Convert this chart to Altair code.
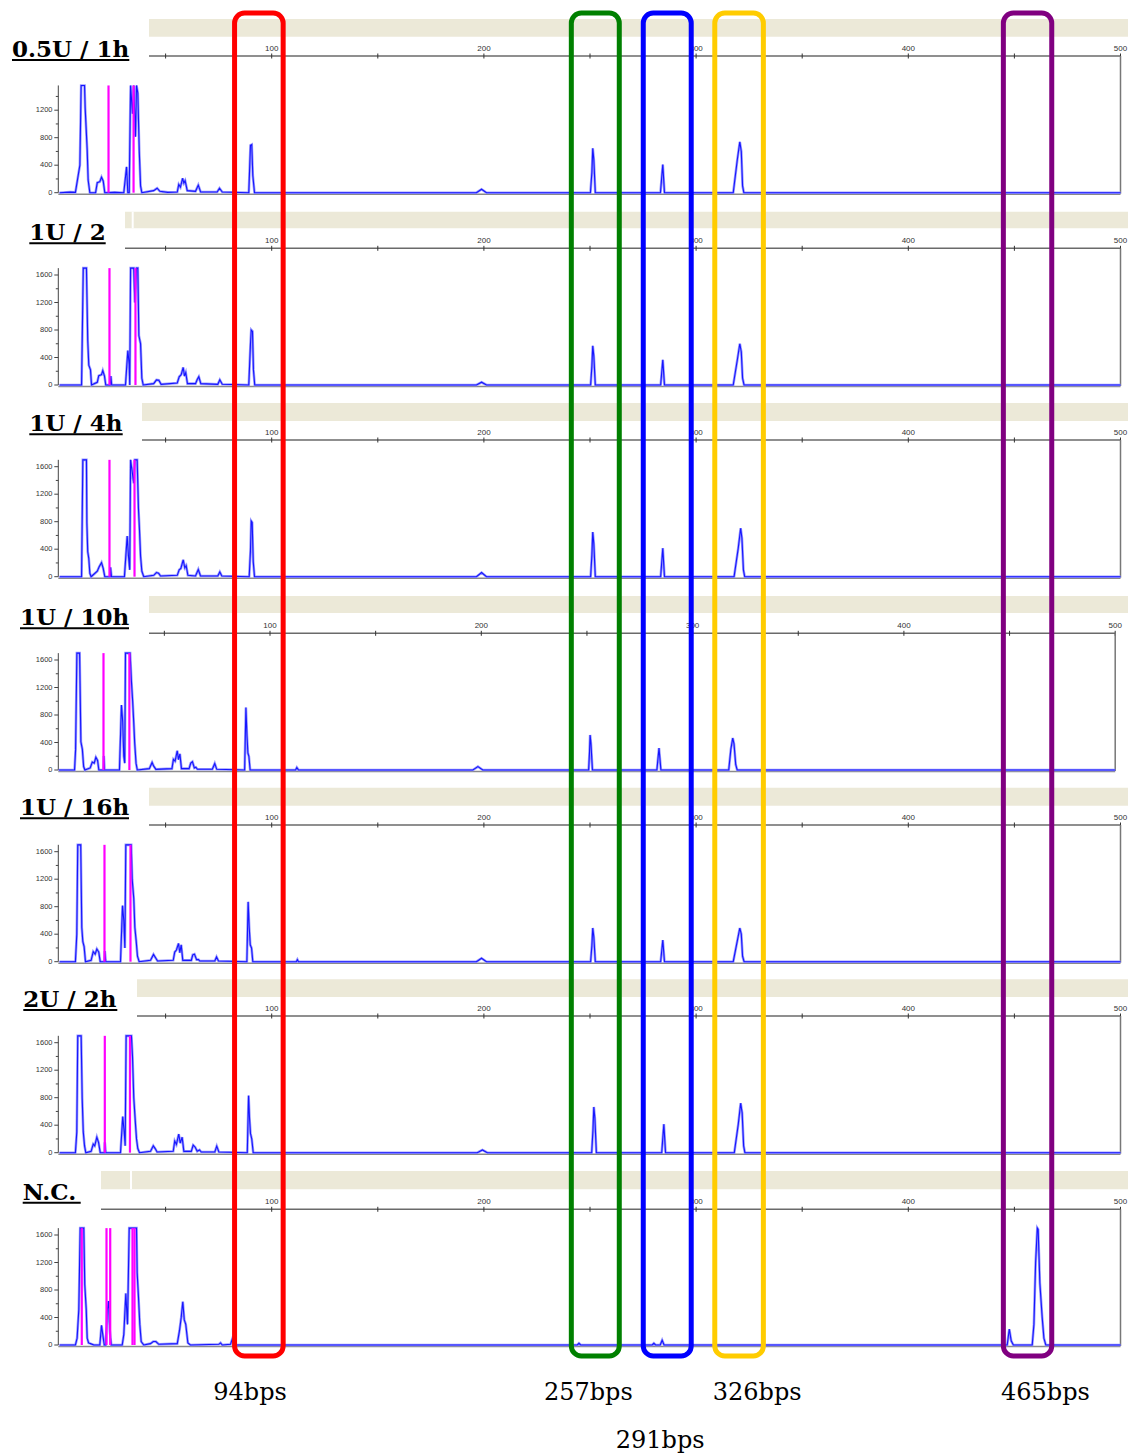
import altair as alt
import pandas as pd

# ---------------- data ----------------
PANEL_TITLES = ["0.5U / 1h", "1U / 2", "1U / 4h", "1U / 10h", "1U / 16h", "2U / 2h", "N.C."]

# (size in bp, fluorescence intensity)
TRACE_05U_1H = [
    (0, 0), (5, 8), (7.5, 5), (9.6, 400), (10.2, 1560), (11.8, 1560), (12.1, 1230), (13.05, 620), (13.5, 185), (14.3, 0),
    (17.0, 0), (17.8, 145), (19.0, 160), (19.8, 225), (20.6, 170), (21.35, 0), (26, 5),
    (30.3, 0), (31.6, 375), (32.2, 0), (32.85, 0), (33.5, 1560), (34.4, 1150), (35.0, 1560), (35.8, 815), (36.3, 1560),
    (36.9, 1450), (37.6, 600), (38.2, 100), (38.8, 0),
    (44.4, 30), (46.0, 65), (47.3, 20), (51, 5),
    (55.5, 10), (56.2, 120), (57.0, 80), (58.0, 210), (58.6, 140), (59.2, 175), (60.2, 30),
    (64.1, 20), (65.4, 110), (66.5, 10),
    (74.3, 10), (75.4, 65), (76.7, 10),
    (89.2, 0), (90.0, 690), (90.6, 700), (91.1, 250), (91.9, 0),
    (196.5, 0), (198.9, 50), (201.2, 0),
    (250.2, 0), (250.9, 300), (251.3, 645), (251.8, 480), (252.5, 0),
    (283.2, 0), (284.3, 410), (285.1, 0),
    (317.5, 0), (319.4, 475), (320.6, 740), (321.3, 600), (321.9, 100), (322.5, 0),
    (500, 0),
]
TRACE_1U_2 = [
    (0, 0), (10.4, 0), (11.2, 1700), (12.7, 1700), (13.3, 655), (13.8, 290), (14.6, 220), (15.1, 0),
    (17.8, 40), (18.5, 135), (19.8, 150), (20.4, 210), (21.2, 130), (21.8, 0),
    (23.9, 0), (24.2, 130), (24.6, 0),
    (31.1, 0), (32.2, 500), (32.85, 300), (33.1, 0), (33.5, 1700), (35.0, 1700), (35.5, 1200), (36.3, 1700), (36.9, 1700),
    (37.4, 720), (38.2, 600), (38.8, 100), (39.45, 0),
    (44.4, 20), (45.7, 75), (46.8, 70), (47.9, 10),
    (55.5, 30), (56.4, 120), (57.35, 150), (58.3, 255), (58.9, 130), (59.5, 180), (60.3, 20),
    (64.1, 20), (64.9, 80), (65.65, 120), (66.6, 20),
    (74.6, 10), (75.55, 75), (76.7, 10),
    (89.2, 0), (90.0, 600), (90.35, 800), (90.95, 780), (91.4, 220), (92.0, 0),
    (196.5, 0), (198.9, 40), (201.2, 0),
    (250.3, 0), (250.9, 280), (251.3, 570), (251.8, 420), (252.5, 0),
    (283.3, 0), (284.3, 365), (285.1, 0),
    (317.5, 0), (319.4, 360), (320.6, 600), (321.3, 480), (321.9, 100), (322.6, 0),
    (500, 0),
]
TRACE_1U_4H = [
    (0, 0), (10.4, 0), (11.0, 1700), (12.7, 1700), (12.9, 780), (13.3, 365), (13.8, 265), (14.3, 50), (14.9, 0),
    (17.8, 80), (18.7, 145), (19.8, 205), (20.6, 120), (21.35, 0),
    (23.9, 0), (24.05, 135), (24.5, 0),
    (30.6, 0), (31.9, 590), (32.5, 300), (33.1, 100), (33.5, 1700), (35.0, 1360), (35.5, 1700), (36.6, 1700), (37.2, 1000),
    (37.7, 680), (38.2, 300), (38.8, 80), (39.7, 0),
    (44.4, 20), (45.7, 60), (46.7, 50), (47.6, 10),
    (55.5, 20), (56.4, 100), (57.2, 120), (58.3, 245), (59.05, 130), (59.7, 160), (60.5, 20),
    (64.1, 10), (65.4, 105), (66.45, 10),
    (74.6, 10), (75.55, 70), (76.5, 10),
    (89.4, 0), (90.0, 380), (90.35, 810), (90.8, 790), (91.3, 220), (91.9, 0),
    (196.5, 0), (198.9, 60), (201.2, 0),
    (250.3, 0), (250.9, 320), (251.3, 650), (251.8, 480), (252.5, 0),
    (283.3, 0), (284.3, 415), (285.1, 0),
    (317.9, 0), (319.8, 400), (321.0, 705), (321.6, 560), (322.3, 100), (322.9, 0),
    (500, 0),
]
TRACE_1U_10H = [
    (0, 0), (7.5, 0), (8.0, 300), (8.6, 1700), (9.9, 1700), (10.5, 410), (11.2, 300), (11.8, 50), (12.4, 0),
    (14.9, 30), (15.9, 115), (16.8, 100), (17.6, 185), (18.4, 140), (19.0, 0),
    (21.2, 0), (21.35, 205), (21.7, 0),
    (28.75, 0), (29.7, 945), (30.3, 700), (30.8, 200), (31.25, 100), (31.6, 1700), (33.1, 1700), (33.8, 1700), (34.4, 1300),
    (35.0, 1000), (35.5, 700), (35.95, 400), (36.6, 100), (37.2, 0),
    (42.9, 20), (44.2, 110), (44.9, 60), (46.0, 10),
    (53.6, 20), (54.3, 155), (55.1, 130), (56.1, 280), (56.7, 150), (57.35, 235), (58.1, 20),
    (61.7, 20), (62.5, 100), (63.3, 120), (64.2, 30), (64.9, 40), (65.65, 10),
    (72.7, 10), (73.85, 95), (74.8, 10),
    (88.0, 0), (88.6, 910), (89.1, 500), (89.55, 245), (90.0, 200), (90.6, 0),
    (112.1, 0), (112.7, 35), (113.5, 0),
    (196.0, 0), (198.4, 50), (200.7, 0),
    (250.8, 0), (251.2, 250), (251.5, 510), (251.9, 380), (252.6, 0),
    (283.1, 0), (284.1, 320), (285.0, 0),
    (317.1, 0), (318.1, 300), (319.0, 465), (319.6, 380), (320.4, 80), (321.1, 0),
    (500, 0),
]
TRACE_1U_16H = [
    (0, 0), (7.5, 0), (8.15, 400), (8.6, 1700), (10.0, 1700), (10.5, 500), (11.0, 290), (11.6, 220), (12.25, 0),
    (14.9, 20), (15.9, 145), (16.8, 110), (17.6, 185), (18.5, 140), (19.2, 0),
    (21.2, 0), (21.35, 155), (21.8, 0),
    (28.75, 0), (29.7, 815), (30.3, 600), (30.8, 200), (31.25, 1700), (32.85, 1700), (33.8, 1700), (34.25, 1200),
    (35.0, 920), (35.5, 500), (36.15, 300), (36.75, 80), (37.55, 0),
    (42.9, 20), (44.3, 105), (45.2, 60), (46.2, 10),
    (53.6, 20), (54.3, 140), (55.1, 170), (56.1, 265), (56.7, 130), (57.35, 245), (58.1, 20),
    (62.1, 20), (62.8, 100), (63.6, 110), (64.6, 30), (65.5, 30), (66.1, 10),
    (73.2, 10), (74.0, 70), (74.9, 10),
    (88.3, 0), (88.9, 870), (89.4, 500), (89.9, 245), (90.5, 200), (91.1, 0),
    (111.6, 0), (112.1, 30), (112.6, 0),
    (196.5, 0), (198.9, 50), (201.2, 0),
    (250.3, 0), (250.9, 240), (251.3, 490), (251.8, 360), (252.5, 0),
    (283.3, 0), (284.3, 315), (285.1, 0),
    (317.5, 0), (319.4, 300), (320.6, 490), (321.3, 400), (321.9, 80), (322.6, 0),
    (500, 0),
]
TRACE_2U_2H = [
    (0, 0), (7.5, 0), (8.15, 300), (8.6, 1700), (10.2, 1700), (10.7, 790), (11.2, 305), (11.8, 100), (12.4, 0),
    (14.9, 20), (15.9, 125), (16.6, 100), (17.6, 225), (18.4, 150), (19.2, 0),
    (21.2, 0), (21.35, 150), (21.8, 0),
    (28.75, 0), (29.8, 525), (30.5, 300), (30.95, 100), (31.4, 1700), (33.1, 1700), (33.9, 1700), (34.4, 1400),
    (35.0, 800), (35.7, 465), (36.3, 200), (36.9, 60), (37.7, 0),
    (42.9, 20), (44.2, 100), (45.1, 60), (46.0, 10),
    (53.6, 20), (54.3, 170), (55.1, 120), (56.2, 270), (56.9, 140), (57.8, 225), (58.6, 20),
    (62.1, 20), (63.0, 110), (63.95, 80), (64.9, 20), (66.0, 40), (66.8, 10),
    (73.2, 10), (74.1, 95), (75.1, 10),
    (88.5, 0), (89.1, 830), (89.55, 500), (90.0, 280), (90.6, 200), (91.3, 0),
    (196.9, 0), (199.3, 40), (201.6, 0),
    (250.8, 0), (251.4, 330), (251.8, 665), (252.3, 500), (253.0, 0),
    (283.8, 0), (284.8, 415), (285.6, 0),
    (318.0, 0), (319.9, 420), (321.0, 720), (321.7, 580), (322.4, 100), (323.0, 0),
    (500, 0),
]
TRACE_NC = [
    (0, 0), (7.5, 0), (8.3, 100), (9.1, 515), (9.75, 1700), (11.45, 1700), (11.9, 880), (12.6, 515), (13.05, 100),
    (13.7, 30), (14.6, 20), (16.2, 0),
    (19.0, 0), (19.8, 285), (20.4, 150), (21.1, 0),
    (21.8, 0), (22.5, 500), (23.1, 640), (23.7, 200), (24.4, 0),
    (29.55, 0), (30.3, 150), (31.25, 750), (32.05, 300), (32.85, 1700), (36.3, 1700), (36.6, 1050), (37.2, 710),
    (37.85, 300), (38.5, 50), (39.7, 0),
    (42.9, 20), (44.2, 50), (45.4, 50), (46.8, 10),
    (55.5, 20), (56.55, 210), (57.35, 400), (58.1, 630), (58.8, 365), (59.5, 300), (60.5, 30), (61.7, 0),
    (75.1, 10), (75.9, 30), (76.7, 0),
    (80.6, 10), (81.4, 85), (82.15, 20), (83.0, 0),
    (244.0, 0), (244.8, 25), (245.6, 0),
    (279.3, 0), (280.1, 25), (280.9, 0), (283.1, 0), (284.0, 70), (284.9, 0),
    (446.6, 0), (447.6, 230), (448.5, 60), (449.5, 0),
    (458.4, 0), (459.2, 300), (460.0, 1200), (460.8, 1700), (461.2, 1680), (462.0, 900), (463.1, 400),
    (463.9, 100), (464.8, 0),
    (500, 0),
]
TRACES = [TRACE_05U_1H, TRACE_1U_2, TRACE_1U_4H, TRACE_1U_10H, TRACE_1U_16H, TRACE_2U_2H, TRACE_NC]

# size-standard (magenta) lines, bp
MAGENTA_BP = [
    [23.1, 34.9],
    [23.55, 35.8],
    [23.55, 35.35],
    [21.2, 33.45],
    [21.2, 33.45],
    [21.35, 33.2],
    [10.5, 22.15, 23.9, 34.4, 35.35],
]
CLIP_TOP = [1560, 1700, 1700, 1700, 1700, 1700, 1700]

X_TICKS = [50, 100, 150, 200, 250, 300, 350, 400, 450, 500]
X_LABELS = [100, 200, 300, 400, 500]
Y_TICKS = [0, 200, 400, 600, 800, 1000, 1200, 1400, 1600]
Y_LABELS = [0, 400, 800, 1200, 1600]

BOX_NAMES = ["94bps", "257bps", "291bps", "326bps", "465bps"]
BOX_LEFT_BP = [82.5, 241.2, 275.1, 308.8, 444.8]
BOX_RIGHT_BP = [105.4, 263.8, 297.7, 331.7, 467.6]
BOX_COLORS = ["#ff0000", "#008000", "#0000ff", "#ffcc00", "#800080"]
LABEL_BP = [89.8, 249.2, 283.1, 328.8, 464.6]
LABEL_ROW = [0, 0, 1, 0, 0]

# ---------------- layout (pixels) ----------------
W, H = 1132, 1456
BASE_Y = [192.7, 385, 576.7, 770, 961.7, 1152.7, 1345]
AXIS_Y = [56, 248.3, 440, 633.3, 825, 1016, 1209.3]
X_RANGE = [(59.5, 1120.5)] * 3 + [(58.7, 1115.2)] + [(59.5, 1120.5)] * 3
BEIGE_X0 = [149, 125, 142, 149, 149, 137, 101]
BEIGE_TOP = [19, 211.7, 403, 596, 787.7, 979.3, 1171]
BEIGE_BOTTOM = [36.7, 228.3, 421, 613, 805.7, 997, 1189.3]
GAP_X = {1: 132.7, 6: 131}
TITLE_X = [12, 29.3, 29.3, 20, 20, 23.3, 22.7]
TITLE_END = [129.3, 105.7, 122.7, 129, 129, 117.3, 80.7]
UNDER_Y = [60, 243.3, 434.3, 628.3, 818.3, 1010, 1202.7]
PANEL_PX = 110  # pixel height of 1600 units
YAXIS_X = 58.3
BOX_TOP, BOX_BOTTOM = 13, 1356
LABEL_Y = [1393, 1441]


def S(domain, rng):
    return alt.Scale(domain=list(domain), range=list(rng), nice=False, zero=False)


PXX = S([0, W], [0, W])
PXY = S([0, H], [0, H])

layers = []

# beige bars, titles
for i in range(7):
    layers.append(
        alt.Chart(pd.DataFrame({"x0": [BEIGE_X0[i]], "x1": [1128], "y0": [BEIGE_TOP[i]], "y1": [BEIGE_BOTTOM[i]]}))
        .mark_rect(color="#ece9d8")
        .encode(x=alt.X("x0:Q", scale=PXX, axis=None), x2="x1:Q",
                y=alt.Y("y0:Q", scale=PXY, axis=None), y2="y1:Q")
    )
    if i in GAP_X:
        layers.append(
            alt.Chart(pd.DataFrame({"x": [GAP_X[i]], "y0": [BEIGE_TOP[i]], "y1": [BEIGE_BOTTOM[i]]}))
            .mark_rule(color="white", strokeWidth=2)
            .encode(x=alt.X("x:Q", scale=PXX, axis=None), y=alt.Y("y0:Q", scale=PXY, axis=None), y2="y1:Q")
        )
    layers.append(
        alt.Chart(pd.DataFrame({"x": [TITLE_X[i]], "y": [UNDER_Y[i] - 3.2], "t": [PANEL_TITLES[i]]}))
        .mark_text(align="left", baseline="alphabetic", font="DejaVu Serif", fontWeight="bold",
                   fontSize=23, color="black")
        .encode(x=alt.X("x:Q", scale=PXX, axis=None), y=alt.Y("y:Q", scale=PXY, axis=None), text="t:N")
    )
    layers.append(
        alt.Chart(pd.DataFrame({"x0": [TITLE_X[i]], "x1": [TITLE_END[i]], "y": [UNDER_Y[i]]}))
        .mark_rule(color="black", strokeWidth=2)
        .encode(x=alt.X("x0:Q", scale=PXX, axis=None), x2="x1:Q", y=alt.Y("y:Q", scale=PXY, axis=None))
    )

# panels
for i in range(7):
    base = BASE_Y[i]
    clip = CLIP_TOP[i]
    right = X_RANGE[i][1]
    xs = S([0, 500], X_RANGE[i])
    ys = S([0, 1600], [base, base - PANEL_PX])
    ay = AXIS_Y[i]

    # top axis line
    layers.append(
        alt.Chart(pd.DataFrame({"x0": [BEIGE_X0[i]], "x1": [right], "y": [ay]}))
        .mark_rule(color="#6a6a6a", strokeWidth=1.6)
        .encode(x=alt.X("x0:Q", scale=PXX, axis=None), x2="x1:Q", y=alt.Y("y:Q", scale=PXY, axis=None))
    )
    # top axis ticks
    layers.append(
        alt.Chart(pd.DataFrame({"bp": X_TICKS, "y0": [ay - 2.5] * len(X_TICKS), "y1": [ay + 2.5] * len(X_TICKS)}))
        .mark_rule(color="#333333", strokeWidth=1)
        .encode(x=alt.X("bp:Q", scale=xs, axis=None), y=alt.Y("y0:Q", scale=PXY, axis=None), y2="y1:Q")
    )
    # top axis labels
    layers.append(
        alt.Chart(pd.DataFrame({"bp": X_LABELS, "y": [ay - 5] * len(X_LABELS), "t": [str(v) for v in X_LABELS]}))
        .mark_text(align="center", baseline="alphabetic", font="Liberation Sans", fontSize=8, color="#333333")
        .encode(x=alt.X("bp:Q", scale=xs, axis=None), y=alt.Y("y:Q", scale=PXY, axis=None), text="t:N")
    )
    # right frame
    layers.append(
        alt.Chart(pd.DataFrame({"x": [right], "y0": [ay], "y1": [base + 1]}))
        .mark_rule(color="#777777", strokeWidth=1.5)
        .encode(x=alt.X("x:Q", scale=PXX, axis=None), y=alt.Y("y0:Q", scale=PXY, axis=None), y2="y1:Q")
    )
    # bottom frame
    layers.append(
        alt.Chart(pd.DataFrame({"x0": [YAXIS_X], "x1": [right], "y": [base + 1.5]}))
        .mark_rule(color="#8a8a8a", strokeWidth=1.5)
        .encode(x=alt.X("x0:Q", scale=PXX, axis=None), x2="x1:Q", y=alt.Y("y:Q", scale=PXY, axis=None))
    )
    # y axis line
    layers.append(
        alt.Chart(pd.DataFrame({"x": [YAXIS_X], "v0": [0], "v1": [clip]}))
        .mark_rule(color="#444444", strokeWidth=1)
        .encode(x=alt.X("x:Q", scale=PXX, axis=None), y=alt.Y("v0:Q", scale=ys, axis=None), y2="v1:Q")
    )
    yt = [v for v in Y_TICKS if v <= clip]
    layers.append(
        alt.Chart(pd.DataFrame({"v": yt,
                                "x0": [YAXIS_X - (4 if v % 400 == 0 else 2.5) for v in yt],
                                "x1": [YAXIS_X] * len(yt)}))
        .mark_rule(color="#444444", strokeWidth=1)
        .encode(x=alt.X("x0:Q", scale=PXX, axis=None), x2="x1:Q", y=alt.Y("v:Q", scale=ys, axis=None))
    )
    yl = [v for v in Y_LABELS if v <= clip]
    layers.append(
        alt.Chart(pd.DataFrame({"v": yl, "x": [52.5] * len(yl), "t": [str(v) for v in yl]}))
        .mark_text(align="right", baseline="middle", font="Liberation Sans", fontSize=7.5, color="#333333")
        .encode(x=alt.X("x:Q", scale=PXX, axis=None), y=alt.Y("v:Q", scale=ys, axis=None), text="t:N")
    )
    # trace
    tdf = pd.DataFrame(TRACES[i], columns=["bp", "v"])
    layers.append(
        alt.Chart(tdf).mark_line(color="#9b9bff", strokeWidth=2.6)
        .encode(x=alt.X("bp:Q", scale=xs, axis=None), y=alt.Y("v:Q", scale=ys, axis=None))
    )
    layers.append(
        alt.Chart(tdf).mark_line(color="#1515ff", strokeWidth=1.1)
        .encode(x=alt.X("bp:Q", scale=xs, axis=None), y=alt.Y("v:Q", scale=ys, axis=None))
    )
    # magenta size-standard lines
    m = MAGENTA_BP[i]
    layers.append(
        alt.Chart(pd.DataFrame({"bp": m, "v0": [0] * len(m), "v1": [clip] * len(m)}))
        .mark_rule(color="#ff00ff", strokeWidth=2.2)
        .encode(x=alt.X("bp:Q", scale=xs, axis=None), y=alt.Y("v0:Q", scale=ys, axis=None), y2="v1:Q")
    )

# highlight boxes
GX = S([0, 500], X_RANGE[0])
layers.append(
    alt.Chart(pd.DataFrame({"name": BOX_NAMES, "l": BOX_LEFT_BP, "r": BOX_RIGHT_BP,
                            "y0": [BOX_TOP] * 5, "y1": [BOX_BOTTOM] * 5}))
    .mark_rect(fillOpacity=0, strokeWidth=5, cornerRadius=10)
    .encode(x=alt.X("l:Q", scale=GX, axis=None), x2="r:Q",
            y=alt.Y("y0:Q", scale=PXY, axis=None), y2="y1:Q",
            stroke=alt.Stroke("name:N", scale=alt.Scale(domain=BOX_NAMES, range=BOX_COLORS), legend=None))
)
layers.append(
    alt.Chart(pd.DataFrame({"bp": LABEL_BP, "y": [LABEL_Y[r] for r in LABEL_ROW], "t": BOX_NAMES}))
    .mark_text(align="center", baseline="middle", font="DejaVu Serif", fontSize=24, color="black")
    .encode(x=alt.X("bp:Q", scale=GX, axis=None), y=alt.Y("y:Q", scale=PXY, axis=None), text="t:N")
)

chart = (
    alt.layer(*layers)
    .resolve_scale(x="independent", y="independent")
    .properties(width=W, height=H, autosize=alt.AutoSizeParams(type="none"), padding=0)
    .configure_view(stroke="transparent")
)

chart.save("out.html", embed_options={"renderer": "svg", "actions": False})
